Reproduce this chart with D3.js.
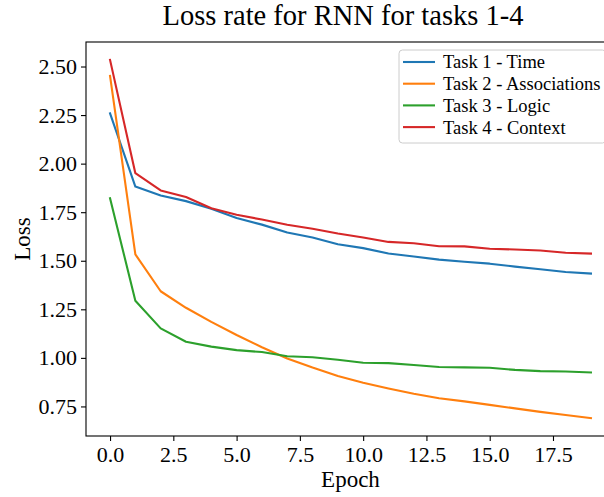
<!DOCTYPE html>
<html>
<head>
<meta charset="utf-8">
<script src="https://cdn.jsdelivr.net/npm/d3@7"></script>
<style>
  html, body { margin: 0; padding: 0; background: #fff; }
  svg { display: block; }
  svg text { font-family: "Liberation Serif", "Times New Roman", serif !important; }
</style>
</head>
<body>
<svg id="chart" width="604" height="497"></svg>
<script>
const epochs = d3.range(0, 20);
const seriesNames = ["Task 1 - Time", "Task 2 - Associations", "Task 3 - Logic", "Task 4 - Context"];
const seriesColors = ["#1f77b4", "#ff7f0e", "#2ca02c", "#d62728"];
const task1 = [2.259, 1.882, 1.836, 1.807, 1.768, 1.720, 1.686, 1.645, 1.620, 1.585, 1.565, 1.537, 1.522, 1.506, 1.495, 1.485, 1.470, 1.456, 1.442, 1.434];
const task2 = [2.452, 1.533, 1.343, 1.258, 1.185, 1.118, 1.055, 0.997, 0.950, 0.907, 0.872, 0.842, 0.815, 0.792, 0.776, 0.758, 0.740, 0.722, 0.706, 0.690];
const task3 = [1.822, 1.294, 1.152, 1.083, 1.058, 1.040, 1.030, 1.008, 1.003, 0.990, 0.975, 0.973, 0.963, 0.953, 0.951, 0.949, 0.938, 0.932, 0.930, 0.925];
const task4 = [2.534, 1.951, 1.862, 1.828, 1.770, 1.737, 1.712, 1.685, 1.665, 1.640, 1.620, 1.597, 1.590, 1.575, 1.574, 1.562, 1.558, 1.553, 1.541, 1.537];
const seriesValues = [task1, task2, task3, task4];
const xTicks = [0, 2.5, 5, 7.5, 10, 12.5, 15, 17.5];
const yTicks = [0.75, 1.00, 1.25, 1.50, 1.75, 2.00, 2.25, 2.50];
const titleText = "Loss rate for RNN for tasks 1-4";
const xLabel = "Epoch";
const yLabel = "Loss";

const FONT = "'Liberation Serif', 'Times New Roman', serif";
const svg = d3.select("#chart");
const L = 86, R = 615, T = 42, B = 436;

const xmin = d3.min(epochs), xmax = d3.max(epochs);
const allV = seriesValues.flat();
const ymin = d3.min(allV), ymax = d3.max(allV);
const xm = (xmax - xmin) * 0.05, ym = (ymax - ymin) * 0.05;
const x = d3.scaleLinear().domain([xmin - xm, xmax + xm]).range([L, R]);
const y = d3.scaleLinear().domain([ymin - ym, ymax + ym]).range([B, T]);

// lines
const line = d3.line().x((d, i) => x(epochs[i])).y(d => y(d));
const plot = svg.append("g");
seriesValues.forEach((vals, k) => {
  plot.append("path")
    .attr("d", line(vals))
    .attr("fill", "none")
    .attr("stroke", seriesColors[k])
    .attr("stroke-width", 2.1)
    .attr("stroke-linejoin", "round")
    .attr("stroke-linecap", "square");
});

// axes
const xAxis = d3.axisBottom(x).tickValues(xTicks).tickFormat(d3.format(".1f")).tickSizeOuter(0).tickSize(5).tickPadding(5);
const yAxis = d3.axisLeft(y).tickValues(yTicks).tickFormat(d3.format(".2f")).tickSizeOuter(0).tickSize(5).tickPadding(4);

const gx = svg.append("g").attr("transform", `translate(0,${B})`).call(xAxis);
const gy = svg.append("g").attr("transform", `translate(${L},0)`).call(yAxis);
[gx, gy].forEach(g => {
  g.attr("font-family", FONT).attr("font-size", 22);
  g.select(".domain").remove();
  g.selectAll(".tick line").attr("stroke", "#000").attr("stroke-width", 1.1);
  g.selectAll(".tick text").attr("fill", "#000").attr("font-family", FONT).attr("font-size", 22);
});
gx.selectAll(".tick text").attr("dy", "0.71em");

// spines
svg.append("rect").attr("x", L).attr("y", T).attr("width", R - L).attr("height", B - T)
  .attr("fill", "none").attr("stroke", "#000").attr("stroke-width", 1.1);

// title and labels
svg.append("text").attr("x", 343).attr("y", 25).attr("text-anchor", "middle")
  .attr("font-family", FONT).attr("font-size", 28.5).text(titleText);
svg.append("text").attr("x", (L + R) / 2).attr("y", 487).attr("text-anchor", "middle")
  .attr("font-family", FONT).attr("font-size", 23).text(xLabel);
svg.append("text").attr("transform", `translate(30,${(T + B) / 2}) rotate(-90)`).attr("text-anchor", "middle")
  .attr("font-family", FONT).attr("font-size", 23).text(yLabel);

// legend
const lg = svg.append("g");
lg.append("rect").attr("x", 399).attr("y", 50).attr("width", 207).attr("height", 93)
  .attr("rx", 3.5).attr("fill", "#fff").attr("fill-opacity", 0.8).attr("stroke", "#cccccc").attr("stroke-width", 1);
seriesNames.forEach((name, k) => {
  const cy = 62 + k * 21.7;
  lg.append("line").attr("x1", 403).attr("x2", 435).attr("y1", cy).attr("y2", cy)
    .attr("stroke", seriesColors[k]).attr("stroke-width", 2.1);
  lg.append("text").attr("x", 443).attr("y", cy).attr("dy", "0.35em")
    .attr("font-family", FONT).attr("font-size", 18.5).text(name);
});
</script>
</body>
</html>
